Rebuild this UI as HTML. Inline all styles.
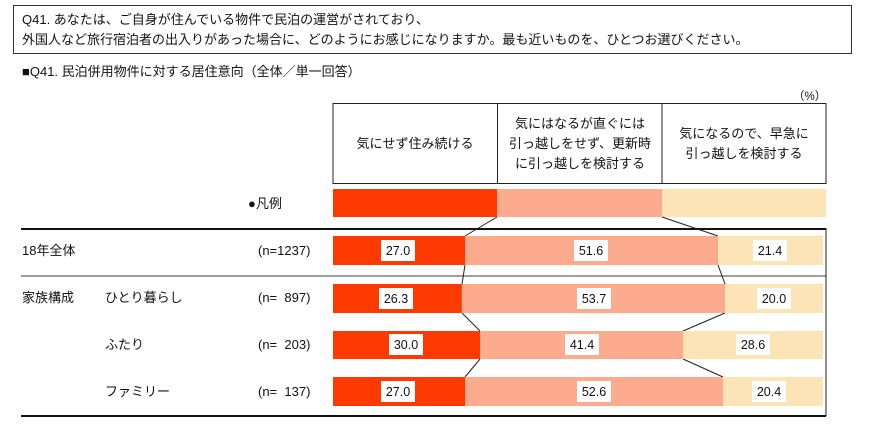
<!DOCTYPE html>
<html><head><meta charset="utf-8"><style>
body{margin:0;background:#fff;}
svg text{font-family:"Liberation Sans","Noto Sans CJK JP",sans-serif;fill:#111;}
</style></head><body>
<svg width="880" height="427" xmlns="http://www.w3.org/2000/svg">
<rect x="13.5" y="5.5" width="838" height="48" fill="#fff" stroke="#333" stroke-width="1"/>
<text x="22" y="24" font-size="13">Q41. あなたは、ご自身が住んでいる物件で民泊の運営がされており、</text>
<text x="22" y="44" font-size="13">外国人など旅行宿泊者の出入りがあった場合に、どのようにお感じになりますか。最も近いものを、ひとつお選びください。</text>
<text x="22" y="76" font-size="13">■Q41. 民泊併用物件に対する居住意向（全体／単一回答）</text>
<text x="793" y="100" font-size="11.5">（%）</text>
<rect x="333" y="103.5" width="493" height="80" fill="none" stroke="#222"/>
<line x1="497.5" y1="103.5" x2="497.5" y2="183.5" stroke="#222"/>
<line x1="662" y1="103.5" x2="662" y2="183.5" stroke="#222"/>
<g font-size="13" text-anchor="middle">
<text x="415" y="148">気にせず住み続ける</text>
<text x="580" y="128">気にはなるが直ぐには</text>
<text x="580" y="148">引っ越しをせず、更新時</text>
<text x="580" y="168">に引っ越しを検討する</text>
<text x="744" y="138">気になるので、早急に</text>
<text x="744" y="158">引っ越しを検討する</text>
</g>
<rect x="333" y="189" width="164" height="28" fill="#FF3A00"/>
<rect x="497" y="189" width="165" height="28" fill="#FDAB8F"/>
<rect x="662" y="189" width="164" height="28" fill="#FDE4B6"/>
<text x="248" y="208" font-size="13">●凡例</text>
<line x1="21" y1="229" x2="826" y2="229" stroke="#111" stroke-width="2"/>
<line x1="21" y1="276" x2="826" y2="276" stroke="#666" stroke-width="1.2"/>
<line x1="21" y1="416" x2="826" y2="416" stroke="#111" stroke-width="2"/>
<line x1="826" y1="228" x2="826" y2="416" stroke="#222" stroke-width="1"/>
<g stroke="#222" stroke-width="1">
<line x1="497" y1="217" x2="465" y2="236"/><line x1="662" y1="217" x2="718" y2="236"/>
<line x1="465" y1="265" x2="462" y2="284"/><line x1="718" y1="265" x2="725" y2="284"/>
<line x1="462" y1="313" x2="480" y2="331"/><line x1="725" y1="313" x2="683" y2="331"/>
<line x1="480" y1="359" x2="465" y2="377"/><line x1="683" y1="359" x2="723" y2="377"/>
</g>
<g font-size="13">
<text x="22" y="255">18年全体</text>
<text x="22" y="302">家族構成</text>
<text x="105" y="302">ひとり暮らし</text>
<text x="105" y="349">ふたり</text>
<text x="105" y="396">ファミリー</text>
<text x="258" y="255">(n=1237)</text>
<text x="258" y="302">(n=&#160;&#160;897)</text>
<text x="258" y="349">(n=&#160;&#160;203)</text>
<text x="258" y="396">(n=&#160;&#160;137)</text>
</g>
<g font-size="12.5" text-anchor="middle">
<rect x="333" y="236" width="132.3" height="29" fill="#FF3A00"/>
<rect x="465.3" y="236" width="252.8" height="29" fill="#FDAB8F"/>
<rect x="718.1" y="236" width="104.9" height="29" fill="#FDE4B6"/>
<rect x="333" y="284" width="128.9" height="29" fill="#FF3A00"/>
<rect x="461.9" y="284" width="263.1" height="29" fill="#FDAB8F"/>
<rect x="725" y="284" width="98" height="29" fill="#FDE4B6"/>
<rect x="333" y="331" width="147" height="28" fill="#FF3A00"/>
<rect x="480" y="331" width="203" height="28" fill="#FDAB8F"/>
<rect x="683" y="331" width="140" height="28" fill="#FDE4B6"/>
<rect x="333" y="377" width="132.3" height="29" fill="#FF3A00"/>
<rect x="465.3" y="377" width="257.7" height="29" fill="#FDAB8F"/>
<rect x="723" y="377" width="100" height="29" fill="#FDE4B6"/>
<g fill="#fff">
<rect x="381" y="240" width="34" height="21"/><rect x="574" y="240" width="34" height="21"/><rect x="753" y="240" width="34" height="21"/>
<rect x="379" y="288" width="34" height="21"/><rect x="577" y="288" width="34" height="21"/><rect x="757" y="288" width="34" height="21"/>
<rect x="389" y="334" width="34" height="21"/><rect x="565" y="334" width="34" height="21"/><rect x="736" y="334" width="34" height="21"/>
<rect x="381" y="381" width="34" height="21"/><rect x="577" y="381" width="34" height="21"/><rect x="752" y="381" width="34" height="21"/>
</g>
<text x="398" y="255">27.0</text><text x="591" y="255">51.6</text><text x="770" y="255">21.4</text>
<text x="396" y="303">26.3</text><text x="594" y="303">53.7</text><text x="774" y="303">20.0</text>
<text x="406" y="349">30.0</text><text x="582" y="349">41.4</text><text x="753" y="349">28.6</text>
<text x="398" y="396">27.0</text><text x="594" y="396">52.6</text><text x="769" y="396">20.4</text>
</g>
</svg>
</body></html>
